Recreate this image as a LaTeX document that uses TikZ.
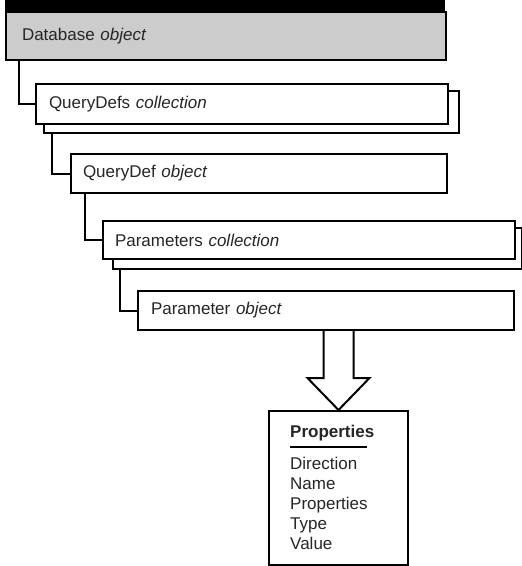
\documentclass[tikz,border=0pt]{standalone}
\usepackage{fontspec}
\setmainfont{Liberation Sans}
\usetikzlibrary{calc}
\begin{document}
\begin{tikzpicture}[x=1pt,y=-1pt,
  every node/.style={font=\fontsize{17}{20}\selectfont, text=black!85},
  bx/.style={draw=black, line width=2pt, anchor=north west, align=left, inner ysep=0pt, fill=white},
  shadowbox/.style={draw=black, line width=2pt, anchor=north west, inner sep=0pt, fill=white},
  conn/.style={draw=black, line width=2pt},
  txt/.style={inner sep=0pt, align=left}]
\useasboundingbox (0,0) rectangle (522,566);
% Database object
\fill[black] (5,0) rectangle (445,11);
\node[bx, fill=black!20, minimum width=440, minimum height=48, text width=408, inner xsep=16] (db) at (5,11) {Database \textit{object}};
% QueryDefs collection
\node[shadowbox, minimum width=415, minimum height=42] (qdsb) at (43,90) {};
\node[bx, minimum width=412, minimum height=40, text width=386, inner xsep=13] (qds) at (35,83) {QueryDefs \textit{collection}};
% QueryDef object
\node[bx, minimum width=376, minimum height=39, text width=352, inner xsep=12] (qd) at (70,153) {QueryDef \textit{object}};
% Parameters collection
\node[shadowbox, minimum width=409, minimum height=41] (psb) at (112,227) {};
\node[bx, minimum width=412, minimum height=38, text width=388, inner xsep=12] (ps) at (102,220) {Parameters \textit{collection}};
% Parameter object
\node[bx, minimum width=376, minimum height=39, text width=350, inner xsep=13] (p) at (137,290) {Parameter \textit{object}};
% Properties box
\node[shadowbox, minimum width=139, minimum height=154] (props) at (268,410) {};
\node[txt, anchor=west, font=\fontsize{17}{20}\selectfont\bfseries] (hd) at (290,433) {Properties};
\draw[line width=2pt] ($(hd.west)+(0,14)$) -- ++(77,0);
\node[txt, anchor=north west] (lst) at (290,457) {Direction\\Name\\Properties\\Type\\Value};
% connectors
\draw[conn] ($(db.south west)+(14,0)$) |- (qds.west);
\draw[conn] ($(qdsb.south west)+(9,0)$) |- (qd.west);
\draw[conn] ($(qd.south west)+(15,0)$) |- (ps.west);
\draw[conn] ($(psb.south west)+(8,0)$) |- (p.west);
% block arrow
\coordinate (at) at (props.north |- p.south);
\draw[line width=2pt, line join=miter, fill=white]
  ($(at)+(-15,0)$) -- ($(at)+(-15,47)$) -- ($(at)+(-31,47)$) -- (props.north)
  -- ($(at)+(31,47)$) -- ($(at)+(15,47)$) -- ($(at)+(15,0)$);
\end{tikzpicture}
\end{document}
